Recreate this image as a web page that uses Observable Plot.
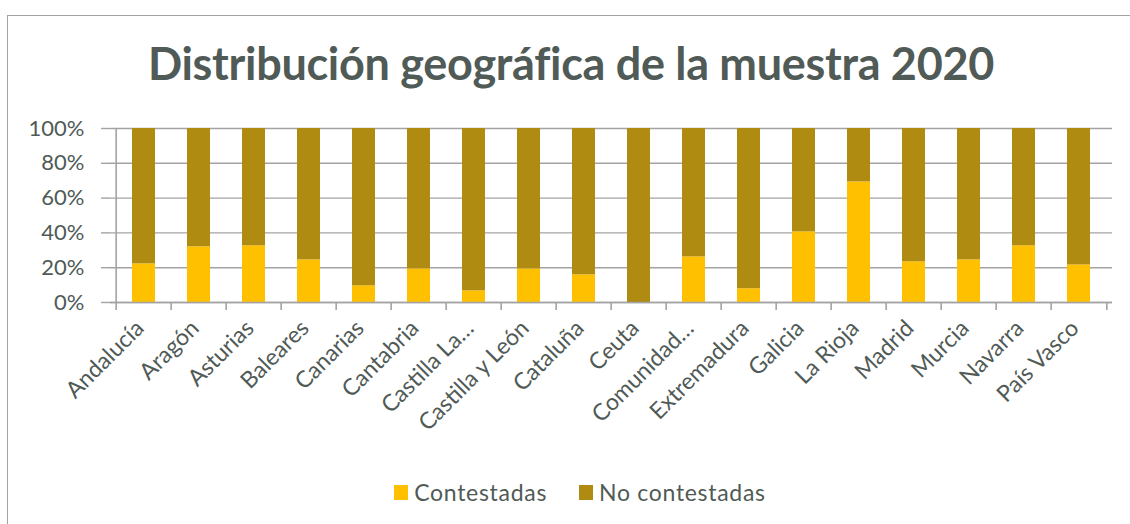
<!DOCTYPE html>
<html>
<head>
<meta charset="utf-8">
<script src="https://cdn.jsdelivr.net/npm/d3@7"></script>
<script src="https://cdn.jsdelivr.net/npm/@observablehq/plot@0.6"></script>
<style>
  html, body { margin: 0; padding: 0; background: #fff; }
  #wrap { position: relative; width: 1130px; height: 524px; overflow: hidden; font-family: Lato, "Open Sans", sans-serif; }
  #frame { position: absolute; left: 7px; top: 15px; right: -5px; bottom: -5px; border-left: 1.5px solid #a3a3a3; border-top: 1.5px solid #a3a3a3; }
  #title { position: absolute; left: 0; width: 1142px; top: 36px; text-align: center; font-weight: 700; font-size: 45px; color: #505a56; white-space: nowrap; letter-spacing: -0.3px; }
  #plot { position: absolute; left: 0; top: 0; }
  #legend { position: absolute; left: 0; width: 1160px; top: 478px; display: flex; justify-content: center; align-items: center; font-size: 23px; letter-spacing: 0.7px; color: #505a56; }
  .sw { display: inline-block; width: 14px; height: 15px; margin-right: 6px; }
  .item { display: flex; align-items: center; margin: 0 16px; }
</style>
</head>
<body>
<div id="wrap">
  <div id="frame"></div>
  <div id="title"></div>
  <div id="plot"></div>
  <div id="legend"></div>
</div>
<script>
const titleText = "Distribución geográfica de la muestra 2020";
const categories = ["Andalucía","Aragón","Asturias","Baleares","Canarias","Cantabria","Castilla La…","Castilla y León","Cataluña","Ceuta","Comunidad…","Extremadura","Galicia","La Rioja","Madrid","Murcia","Navarra","País Vasco"];
const series = ["Contestadas","No contestadas"];
const contestadas   = [22.2,32.0,32.6,24.5, 9.6,19.3, 6.7,19.3,15.9,  0.0,26.2, 7.9,40.6,69.3,23.4,24.5,32.6,21.6];
const noContestadas = [77.8,68.0,67.4,75.5,90.4,80.7,93.3,80.7,84.1,100.0,73.8,92.1,59.4,30.7,76.6,75.5,67.4,78.4];
const yTicks = [0,20,40,60,80,100];
const colors = ["#FFC000","#B08B12"];

const rows = [];
categories.forEach((c,i) => {
  rows.push({region: c, serie: series[0], value: contestadas[i]});
  rows.push({region: c, serie: series[1], value: noContestadas[i]});
});

const W = 1130, H = 524, mL = 110, mR = 18, mT = 128, mB = 222;
const step = (W - mL - mR) / categories.length;
const grid = "#a3a3a3";
const txt = "#505a56";

const chart = Plot.plot({
  width: W, height: H,
  marginLeft: mL, marginRight: mR, marginTop: mT, marginBottom: mB,
  style: {fontFamily: "Lato, 'Open Sans', sans-serif", background: "transparent", overflow: "visible"},
  x: {type: "band", domain: categories, paddingInner: 0.59, paddingOuter: 0.295, label: null},
  y: {domain: [0,100], label: null},
  color: {domain: series, range: colors},
  marks: [
    Plot.gridY(yTicks, {stroke: grid, strokeOpacity: 1, strokeWidth: 1.4}),
    Plot.barY(rows, {x: "region", y: "value", fill: "serie"}),
    Plot.ruleY([0], {stroke: grid, strokeWidth: 1.6}),
    Plot.axisY(yTicks, {tickSize: 9, tickPadding: 17, stroke: grid, strokeWidth: 1.4, fill: txt, fontSize: 22, tickFormat: d => d + "%", label: null}),
    Plot.ruleX(categories.slice(0,1), {x: d => d, y1: 100, y2: 0, insetBottom: -8, dx: -step/2, stroke: grid, strokeWidth: 1.6}),
    Plot.ruleX(categories.slice(1), {x: d => d, y1: 0, y2: 0, insetBottom: -8, dx: -step/2, stroke: grid, strokeWidth: 1.6}),
    Plot.ruleX(categories.slice(-1), {x: d => d, y1: 0, y2: 0, insetBottom: -8, dx: step/2, stroke: grid, strokeWidth: 1.6}),
    Plot.axisX({tickSize: 0, tickRotate: -45, tickPadding: 22, dx: -4, fill: txt, fontSize: 23, label: null})
  ]
});
document.getElementById("plot").appendChild(chart);
document.getElementById("title").textContent = titleText;
const lg = document.getElementById("legend");
series.forEach((s,i) => {
  const it = document.createElement("div"); it.className = "item";
  const sw = document.createElement("span"); sw.className = "sw"; sw.style.background = colors[i];
  const t = document.createElement("span"); t.textContent = s;
  it.appendChild(sw); it.appendChild(t); lg.appendChild(it);
});
</script>
</body>
</html>
